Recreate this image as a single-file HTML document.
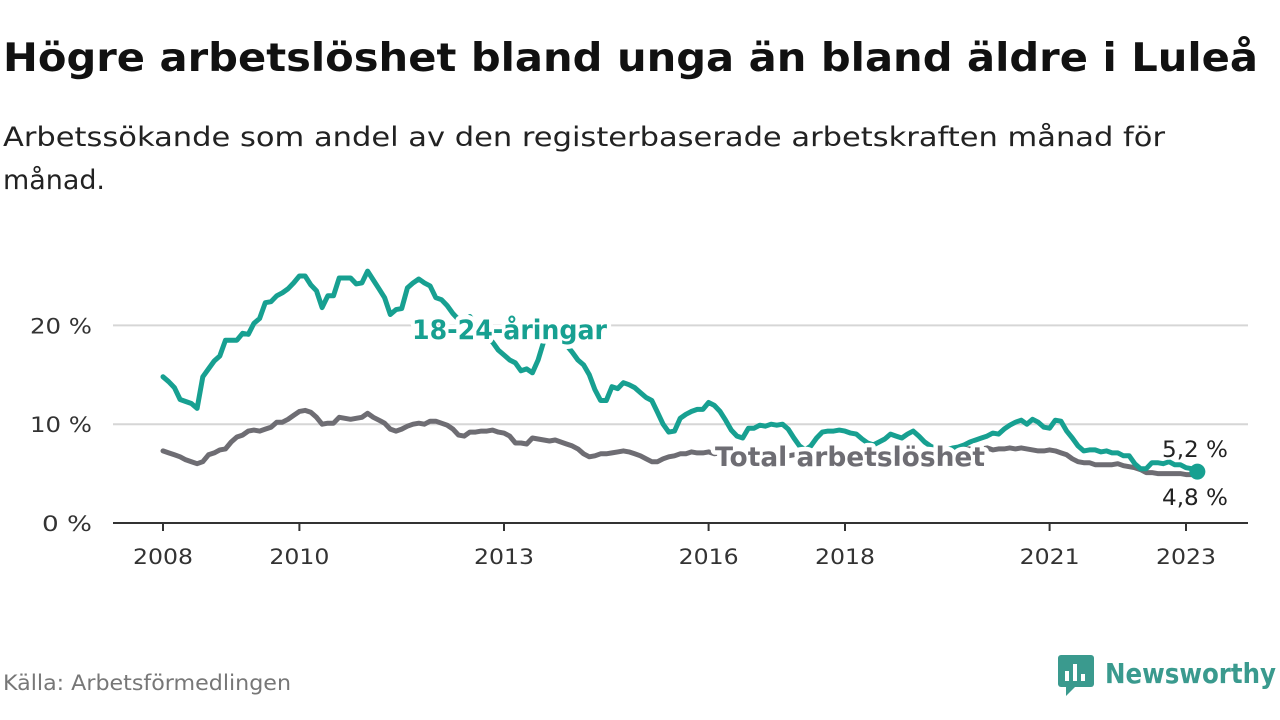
<!DOCTYPE html>
<html><head><meta charset="utf-8">
<style>
body{margin:0;width:1280px;height:720px;background:#fff;overflow:hidden;font-family:"DejaVu Sans","Liberation Sans",sans-serif;}
svg text{font-family:"DejaVu Sans","Liberation Sans",sans-serif}
</style></head><body>
<svg id="chart" width="1280" height="720" style="position:absolute;left:0;top:0">
<text x="3" y="71" font-size="39" font-weight="bold" fill="#111" textLength="1255" lengthAdjust="spacingAndGlyphs">Högre arbetslöshet bland unga än bland äldre i Luleå</text>
<text x="3" y="146" font-size="27" fill="#222" textLength="1162" lengthAdjust="spacingAndGlyphs">Arbetssökande som andel av den registerbaserade arbetskraften månad för</text>
<text x="3" y="189" font-size="27" fill="#222" textLength="102" lengthAdjust="spacingAndGlyphs">månad.</text>
<text x="3" y="690" font-size="21" fill="#777" textLength="288" lengthAdjust="spacingAndGlyphs">Källa: Arbetsförmedlingen</text>
<g>
<rect x="1058" y="655" width="36" height="32" rx="3" fill="#3a9a8e"/><path d="M1066 687 L1066 696 L1075 687Z" fill="#3a9a8e"/>
<rect x="1065" y="671" width="4" height="10" fill="#fff"/><rect x="1073" y="664" width="4" height="17" fill="#fff"/><rect x="1081" y="674" width="4" height="7" fill="#fff"/>
<text x="1105" y="683" font-size="28" font-weight="bold" fill="#3a9a8e" textLength="171" lengthAdjust="spacingAndGlyphs">Newsworthy</text>
</g>
</svg>
<script>
const startYear = 2008;
const xTickLabels = [2008, 2010, 2013, 2016, 2018, 2021, 2023];
const yTicks = [0, 10, 20];
const youth = [
14.8,14.3,13.7,12.5,12.3,12.1,11.6,14.8,15.6,16.4,16.9,18.5,
18.5,18.5,19.2,19.1,20.2,20.7,22.3,22.4,23.0,23.3,23.7,24.3,
25.0,25.0,24.1,23.5,21.8,23.0,23.0,24.8,24.8,24.8,24.2,24.3,
25.5,24.6,23.7,22.8,21.1,21.6,21.7,23.8,24.3,24.7,24.3,24.0,
22.8,22.6,22.0,21.2,20.6,20.3,20.9,20.0,19.5,18.8,18.3,17.5,
17.0,16.5,16.2,15.4,15.6,15.2,16.5,18.4,19.2,19.0,18.5,18.0,
17.3,16.5,16.0,15.0,13.5,12.4,12.4,13.8,13.6,14.2,14.0,13.7,
13.2,12.7,12.4,11.2,10.0,9.2,9.3,10.6,11.0,11.3,11.5,11.5,
12.2,11.9,11.3,10.4,9.4,8.8,8.6,9.6,9.6,9.9,9.8,10.0,
9.9,10.0,9.5,8.6,7.8,7.4,7.8,8.6,9.2,9.3,9.3,9.4,
9.3,9.1,9.0,8.5,8.1,7.9,8.2,8.5,9.0,8.8,8.6,9.0,
9.3,8.8,8.2,7.8,7.5,7.3,7.4,7.6,7.7,7.9,8.2,8.4,
8.6,8.8,9.1,9.0,9.5,9.9,10.2,10.4,10.0,10.5,10.2,9.7,
9.6,10.4,10.3,9.3,8.6,7.8,7.3,7.4,7.4,7.2,7.3,7.1,
7.1,6.8,6.8,6.0,5.5,5.5,6.1,6.1,6.0,6.2,5.9,5.9,
5.6,5.5,5.2];
const total = [
7.3,7.1,6.9,6.7,6.4,6.2,6.0,6.2,6.9,7.1,7.4,7.5,
8.2,8.7,8.9,9.3,9.4,9.3,9.5,9.7,10.2,10.2,10.5,10.9,
11.3,11.4,11.2,10.7,10.0,10.1,10.1,10.7,10.6,10.5,10.6,10.7,
11.1,10.7,10.4,10.1,9.5,9.3,9.5,9.8,10.0,10.1,10.0,10.3,
10.3,10.1,9.9,9.5,8.9,8.8,9.2,9.2,9.3,9.3,9.4,9.2,
9.1,8.8,8.1,8.1,8.0,8.6,8.5,8.4,8.3,8.4,8.2,8.0,
7.8,7.5,7.0,6.7,6.8,7.0,7.0,7.1,7.2,7.3,7.2,7.0,
6.8,6.5,6.2,6.2,6.5,6.7,6.8,7.0,7.0,7.2,7.1,7.1,
7.2,7.0,7.1,7.0,6.9,6.8,6.9,7.0,7.0,7.1,7.0,6.9,
6.8,6.7,6.8,6.9,7.0,6.9,6.9,7.0,7.0,6.9,6.8,6.8,
6.9,6.9,7.0,7.0,6.9,6.8,6.9,7.0,7.0,7.1,7.0,7.0,
7.0,7.1,7.1,7.2,7.3,7.4,7.4,7.5,7.6,7.5,7.5,7.4,
7.5,7.6,7.4,7.5,7.5,7.6,7.5,7.6,7.5,7.4,7.3,7.3,
7.4,7.3,7.1,6.9,6.5,6.2,6.1,6.1,5.9,5.9,5.9,5.9,
6.0,5.8,5.7,5.6,5.4,5.1,5.1,5.0,5.0,5.0,5.0,5.0,
4.9,4.9,4.8];

const NS='http://www.w3.org/2000/svg';
const svg=document.getElementById('chart');
const x0=163, pxYear=68.2, y0=523, pxUnit=9.88;
function xs(t){return x0+(t-startYear)*pxYear;}
function xm(i){return xs(startYear+i/12);}
function ys(v){return y0-v*pxUnit;}
function mk(tag,attrs){const e=document.createElementNS(NS,tag);for(const k in attrs)e.setAttribute(k,attrs[k]);svg.appendChild(e);return e;}

yTicks.forEach(v=>{
  if(v>0){const g=mk('line',{x1:113,x2:1248,y1:ys(v),y2:ys(v),stroke:'#d6d6d6','stroke-width':2});
  
  }
  const t=mk('text',{x:92,y:ys(v)+8,'text-anchor':'end','font-size':21,fill:'#333',textLength:(v>0?62:50),lengthAdjust:'spacingAndGlyphs'});
  t.textContent=v+' %';
  
  
});
const ax=mk('line',{x1:113,x2:1248,y1:y0,y2:y0,stroke:'#333','stroke-width':2});


xTickLabels.forEach(yr=>{
  const tk=mk('line',{x1:xs(yr),x2:xs(yr),y1:y0,y2:y0+8,stroke:'#333','stroke-width':2});
  
  
  const t=mk('text',{x:xs(yr),y:564,'text-anchor':'middle','font-size':21,fill:'#333',textLength:60,lengthAdjust:'spacingAndGlyphs'});
  t.textContent=yr;
  
  
});
function line(arr,color,name){
  const d=arr.map((v,i)=>(i?'L':'M')+xm(i).toFixed(1)+' '+ys(v).toFixed(1)).join(' ');
  const p=mk('path',{d:d,fill:'none',stroke:color,'stroke-width':5,'stroke-linejoin':'round','stroke-linecap':'round'});
  
  
}
line(total,'#6e6d73','total-line');
line(youth,'#17a091','youth-line');
const li=youth.length-1;
const dot=mk('circle',{cx:xm(li),cy:ys(youth[li]),r:8,fill:'#17a091'});


function lab(txt,x,y,color,name,bold,w){
  const t=mk('text',{x:x,y:y,'font-size':bold?27:22,'font-weight':bold?'bold':'normal',fill:color,stroke:'#fff','stroke-width':bold?9:5,'paint-order':'stroke','stroke-linejoin':'round',textLength:w,lengthAdjust:'spacingAndGlyphs'});
  t.textContent=txt;
  
  
}
lab('18-24-åringar',412,339,'#17a091','youth-series-label',true,195);
lab('Total arbetslöshet',715,466,'#6e6d73','total-series-label',true,270);
lab(String(youth[li]).replace('.',',')+' %',1162,457,'#222','youth-end-value',false,66);
lab(String(total[total.length-1]).replace('.',',')+' %',1162,505,'#222','total-end-value',false,66);
</script>
</body></html>
